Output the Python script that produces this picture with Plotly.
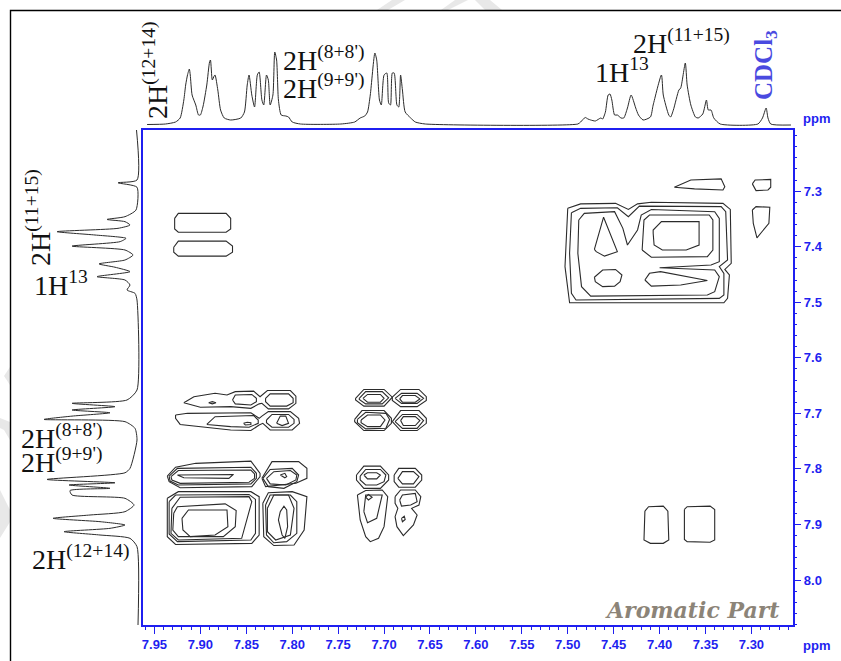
import plotly.graph_objects as go

W, H = 841, 661

# 1D projections: (chemical shift in ppm, intensity)
top_ppm = [7.958,7.938,7.927,7.922,7.918,7.916,7.914,7.912,7.911,7.909,7.905,7.902,7.900,7.897,7.893,7.890,7.889,7.887,7.885,7.884,7.881,7.878,7.874,7.867,7.856,7.852,7.849,7.847,7.844,7.841,7.838,7.836,7.833,7.831,7.828,7.826,7.824,7.821,7.819,7.817,7.815,7.812,7.807,7.804,7.800,7.791,7.747,7.732,7.726,7.721,7.718,7.715,7.710,7.708,7.705,7.703,7.700,7.697,7.695,7.693,7.691,7.689,7.686,7.684,7.682,7.680,7.677,7.671,7.666,7.655,7.489,7.486,7.481,7.478,7.475,7.470,7.464,7.462,7.459,7.456,7.454,7.452,7.449,7.446,7.442,7.439,7.435,7.431,7.426,7.423,7.418,7.410,7.407,7.398,7.396,7.390,7.388,7.385,7.379,7.377,7.372,7.370,7.366,7.361,7.358,7.353,7.349,7.347,7.344,7.341,7.334,7.293,7.288,7.284,7.282,7.279,7.257]
top_int = [0.5,1,3,7,25,40,50,56,50,30,20,10,10,19,40,63,65,45,49,50,35,15,7,5,7,13,40,50,30,18,50,53,25,20,50,45,20,30,73,65,25,10,9,8,3,1,1,3,7,9,13,30,72,65,25,20,50,52,22,20,52,52,20,18,50,35,13,7,3,1,1,3,7.5,6,5,4,7,6,13,30,31,25,10,10,7,7,17,30,17,10,5,8,20,50,30,10,8,15,35,37,62,40,20,8,7,11,25,15,15,7,1,1,7,17,7,1,0]

left_ppm = [7.190,7.280,7.285,7.293,7.334,7.346,7.351,7.355,7.361,7.367,7.373,7.379,7.385,7.391,7.399,7.406,7.415,7.424,7.431,7.437,7.445,7.454,7.460,7.469,7.478,7.484,7.496,7.658,7.676,7.682,7.688,7.694,7.699,7.705,7.711,7.715,7.727,7.748,7.799,7.807,7.819,7.825,7.829,7.835,7.839,7.847,7.853,7.865,7.877,7.883,7.889,7.895,7.901,7.907,7.913,7.919,7.925,7.940,8.081]
left_int = [0.5,0,19,0,1,12,30,12,7,19,80,42,11,17,65,12,4,12,38,22,7,40,12,7,10,2,0,0,10,65,22,65,27,65,93,12,2,0,7,12,90,22,68,27,67,65,12,3,12,47,84,37,12,27,73,37,7,0,-1]

x_tick_vals = [7.95,7.90,7.85,7.80,7.75,7.70,7.65,7.60,7.55,7.50,7.45,7.40,7.35,7.30]
y_tick_vals = [7.3,7.4,7.5,7.6,7.7,7.8,7.9,8.0]

# Cross-peak contours, (F2 ppm, F1 ppm), grouped by region
contours_upper_left = [
    [(7.928,7.349),(7.924,7.340),(7.872,7.340),(7.867,7.349),(7.867,7.368),(7.872,7.374),(7.924,7.374),(7.928,7.368)],
    [(7.929,7.401),(7.924,7.390),(7.872,7.390),(7.865,7.399),(7.865,7.410),(7.872,7.417),(7.924,7.417),(7.929,7.410)],
]
contours_770_left = [
    [(7.918,7.681),(7.907,7.670),(7.884,7.664),(7.871,7.667),(7.862,7.661),(7.842,7.660),(7.835,7.670),(7.833,7.667),(7.827,7.659),(7.802,7.659),(7.796,7.669),(7.796,7.682),(7.804,7.692),(7.826,7.692),(7.833,7.682),(7.836,7.683),(7.845,7.691),(7.867,7.688),(7.900,7.689)],
    [(7.865,7.676),(7.862,7.667),(7.844,7.666),(7.839,7.673),(7.839,7.679),(7.845,7.685),(7.862,7.683)],
    [(7.829,7.673),(7.824,7.665),(7.804,7.665),(7.799,7.673),(7.799,7.681),(7.806,7.687),(7.824,7.687),(7.829,7.679)],
    [(7.891,7.681),(7.887,7.679),(7.883,7.681),(7.887,7.683)],
    [(7.927,7.703),(7.914,7.700),(7.845,7.699),(7.836,7.709),(7.833,7.705),(7.826,7.697),(7.802,7.697),(7.793,7.709),(7.792,7.718),(7.800,7.730),(7.824,7.730),(7.832,7.718),(7.836,7.721),(7.845,7.731),(7.867,7.730),(7.922,7.720),(7.927,7.709)],
    [(7.893,7.720),(7.884,7.706),(7.842,7.704),(7.837,7.712),(7.837,7.718),(7.847,7.725),(7.867,7.724)],
    [(7.828,7.712),(7.822,7.702),(7.804,7.702),(7.798,7.711),(7.798,7.718),(7.804,7.725),(7.822,7.725),(7.828,7.717)],
    [(7.817,7.718),(7.813,7.705),(7.807,7.705),(7.804,7.718),(7.811,7.722)],
    [(7.853,7.718),(7.849,7.716),(7.845,7.717),(7.845,7.720),(7.851,7.721)],
]
contours_770_right = [
    [(7.731,7.673),(7.722,7.657),(7.700,7.657),(7.691,7.671),(7.700,7.687),(7.722,7.687),(7.731,7.676)],
    [(7.727,7.673),(7.720,7.661),(7.702,7.661),(7.695,7.672),(7.702,7.683),(7.720,7.683),(7.727,7.675)],
    [(7.723,7.673),(7.718,7.666),(7.704,7.666),(7.700,7.673),(7.704,7.680),(7.718,7.680)],
    [(7.691,7.671),(7.682,7.657),(7.662,7.657),(7.654,7.670),(7.654,7.677),(7.664,7.688),(7.682,7.688),(7.691,7.677)],
    [(7.688,7.673),(7.681,7.664),(7.664,7.664),(7.657,7.673),(7.664,7.682),(7.681,7.682)],
    [(7.683,7.674),(7.680,7.668),(7.666,7.668),(7.661,7.674),(7.666,7.680),(7.680,7.680)],
    [(7.732,7.711),(7.724,7.695),(7.700,7.695),(7.692,7.709),(7.692,7.718),(7.700,7.731),(7.722,7.731),(7.732,7.715)],
    [(7.729,7.711),(7.720,7.698),(7.698,7.700),(7.694,7.711),(7.698,7.727),(7.720,7.728),(7.729,7.717)],
    [(7.725,7.712),(7.718,7.703),(7.704,7.703),(7.699,7.712),(7.704,7.724),(7.718,7.724),(7.725,7.717)],
    [(7.691,7.715),(7.682,7.695),(7.662,7.695),(7.654,7.709),(7.654,7.718),(7.664,7.731),(7.682,7.731)],
    [(7.688,7.715),(7.680,7.702),(7.664,7.702),(7.657,7.713),(7.664,7.727),(7.680,7.727)],
    [(7.682,7.713),(7.679,7.706),(7.666,7.706),(7.661,7.713),(7.666,7.722),(7.679,7.722)],
]
contours_780_left = [
    [(7.936,7.813),(7.927,7.797),(7.905,7.790),(7.845,7.786),(7.835,7.808),(7.835,7.814),(7.844,7.832),(7.922,7.834),(7.934,7.823)],
    [(7.934,7.813),(7.925,7.799),(7.845,7.797),(7.839,7.808),(7.839,7.817),(7.845,7.827),(7.924,7.829),(7.933,7.822)],
    [(7.932,7.814),(7.924,7.803),(7.845,7.802),(7.841,7.809),(7.841,7.817),(7.847,7.824),(7.922,7.826),(7.931,7.820)],
    [(7.925,7.811),(7.864,7.810),(7.869,7.817),(7.918,7.816)],
    [(7.936,7.853),(7.924,7.841),(7.845,7.841),(7.836,7.850),(7.836,7.919),(7.844,7.934),(7.927,7.936),(7.936,7.922)],
    [(7.934,7.859),(7.927,7.847),(7.847,7.846),(7.840,7.855),(7.840,7.916),(7.845,7.928),(7.925,7.931),(7.934,7.917)],
    [(7.931,7.871),(7.922,7.851),(7.847,7.850),(7.844,7.859),(7.855,7.925),(7.924,7.928),(7.932,7.916)],
    [(7.929,7.880),(7.925,7.868),(7.873,7.863),(7.861,7.875),(7.862,7.904),(7.875,7.922),(7.924,7.922),(7.930,7.910)],
    [(7.920,7.889),(7.913,7.874),(7.871,7.874),(7.870,7.904),(7.884,7.919),(7.911,7.922),(7.919,7.910)],
    [(7.833,7.817),(7.822,7.787),(7.793,7.787),(7.784,7.799),(7.784,7.817),(7.796,7.826),(7.829,7.832)],
    [(7.832,7.817),(7.824,7.801),(7.800,7.799),(7.793,7.811),(7.795,7.823),(7.809,7.835),(7.826,7.832)],
    [(7.828,7.817),(7.820,7.805),(7.802,7.803),(7.795,7.811),(7.796,7.820),(7.807,7.829),(7.824,7.827)],
    [(7.813,7.811),(7.808,7.808),(7.806,7.814),(7.808,7.816)],
    [(7.832,7.862),(7.826,7.843),(7.800,7.841),(7.784,7.850),(7.787,7.910),(7.798,7.937),(7.820,7.938),(7.831,7.922)],
    [(7.829,7.865),(7.824,7.847),(7.802,7.847),(7.795,7.859),(7.795,7.916),(7.806,7.931),(7.820,7.933),(7.828,7.919)],
    [(7.827,7.871),(7.820,7.847),(7.804,7.847),(7.798,7.871),(7.802,7.919),(7.818,7.928),(7.827,7.913)],
    [(7.813,7.877),(7.809,7.867),(7.806,7.874),(7.805,7.904),(7.808,7.925),(7.811,7.919),(7.815,7.892)],
]
contours_780_right = [
    [(7.730,7.811),(7.722,7.795),(7.704,7.795),(7.695,7.811),(7.695,7.820),(7.704,7.835),(7.722,7.835),(7.730,7.820)],
    [(7.726,7.813),(7.720,7.801),(7.704,7.801),(7.698,7.811),(7.700,7.823),(7.708,7.829),(7.720,7.829),(7.726,7.820)],
    [(7.722,7.811),(7.718,7.807),(7.708,7.807),(7.704,7.811),(7.708,7.818),(7.718,7.818)],
    [(7.729,7.847),(7.720,7.839),(7.702,7.838),(7.696,7.850),(7.700,7.904),(7.706,7.925),(7.715,7.931),(7.720,7.922),(7.726,7.892)],
    [(7.722,7.877),(7.720,7.847),(7.702,7.847),(7.708,7.889),(7.718,7.897)],
    [(7.720,7.851),(7.717,7.846),(7.713,7.851),(7.717,7.856)],
    [(7.689,7.811),(7.684,7.799),(7.666,7.799),(7.659,7.811),(7.659,7.820),(7.666,7.833),(7.684,7.833),(7.689,7.823)],
    [(7.685,7.817),(7.680,7.805),(7.668,7.805),(7.662,7.814),(7.668,7.827),(7.680,7.827)],
    [(7.688,7.850),(7.682,7.838),(7.666,7.838),(7.660,7.850),(7.662,7.865),(7.670,7.871),(7.664,7.883),(7.668,7.901),(7.679,7.920),(7.686,7.904),(7.688,7.886),(7.685,7.871),(7.688,7.862)],
    [(7.683,7.856),(7.680,7.847),(7.666,7.844),(7.664,7.859),(7.671,7.865),(7.681,7.867)],
    [(7.681,7.889),(7.678,7.885),(7.677,7.891),(7.680,7.895)],
]
contours_740 = [
    [(7.500,7.331),(7.486,7.323),(7.448,7.322),(7.434,7.333),(7.424,7.323),(7.409,7.320),(7.331,7.322),(7.323,7.333),(7.322,7.430),(7.329,7.441),(7.324,7.451),(7.326,7.493),(7.330,7.501),(7.498,7.501),(7.503,7.436)],
    [(7.496,7.339),(7.486,7.331),(7.446,7.330),(7.434,7.346),(7.422,7.327),(7.333,7.328),(7.328,7.337),(7.326,7.424),(7.335,7.436),(7.330,7.448),(7.330,7.487),(7.335,7.493),(7.491,7.496),(7.496,7.484),(7.498,7.412)],
    [(7.488,7.352),(7.482,7.340),(7.449,7.337),(7.440,7.367),(7.435,7.397),(7.424,7.370),(7.420,7.343),(7.409,7.333),(7.340,7.337),(7.335,7.349),(7.335,7.427),(7.344,7.433),(7.400,7.438),(7.340,7.442),(7.335,7.454),(7.340,7.481),(7.348,7.487),(7.475,7.489),(7.485,7.472),(7.489,7.412)],
    [(7.471,7.405),(7.461,7.347),(7.446,7.409),(7.460,7.417),(7.469,7.409)],
    [(7.419,7.406),(7.417,7.352),(7.411,7.343),(7.346,7.343),(7.342,7.352),(7.342,7.406),(7.348,7.418),(7.409,7.419)],
    [(7.407,7.376),(7.407,7.370),(7.398,7.355),(7.357,7.355),(7.357,7.397),(7.371,7.406),(7.397,7.406),(7.406,7.397)],
    [(7.471,7.455),(7.462,7.442),(7.448,7.441),(7.441,7.451),(7.443,7.463),(7.449,7.471),(7.462,7.472),(7.470,7.463)],
    [(7.416,7.460),(7.411,7.448),(7.399,7.445),(7.348,7.461),(7.377,7.469),(7.409,7.471)],
    [(7.384,7.293),(7.366,7.280),(7.333,7.278),(7.329,7.292),(7.331,7.298),(7.362,7.296)],
    [(7.299,7.287),(7.296,7.280),(7.279,7.279),(7.279,7.293),(7.282,7.298),(7.295,7.299)],
    [(7.299,7.334),(7.295,7.328),(7.280,7.329),(7.281,7.358),(7.294,7.384),(7.298,7.358)],
]
contours_790_right = [
    [(7.416,7.876),(7.412,7.868),(7.396,7.867),(7.391,7.876),(7.390,7.928),(7.396,7.934),(7.410,7.934),(7.417,7.928)],
    [(7.373,7.873),(7.370,7.868),(7.345,7.867),(7.340,7.873),(7.340,7.928),(7.345,7.932),(7.370,7.931),(7.373,7.927)],
]

BLUE = "#1f1ff0"
INK = "#2b2b2b"

fig = go.Figure()
for group in (contours_upper_left, contours_770_left, contours_770_right,
              contours_780_left, contours_780_right, contours_740, contours_790_right):
    for poly in group:
        closed = poly + poly[:1]
        fig.add_trace(go.Scatter(x=[p[0] for p in closed], y=[p[1] for p in closed],
                                 mode="lines", line=dict(color=INK, width=1.1),
                                 hoverinfo="skip", showlegend=False))

fig.add_trace(go.Scatter(x=top_ppm, y=top_int, xaxis="x2", yaxis="y2", mode="lines",
                         line=dict(color=INK, width=1, shape="spline", smoothing=0.6), hoverinfo="skip", showlegend=False))
fig.add_trace(go.Scatter(x=left_int, y=left_ppm, xaxis="x3", yaxis="y3", mode="lines",
                         line=dict(color=INK, width=1, shape="spline", smoothing=0.6), hoverinfo="skip", showlegend=False))

def fx(px): return px / W
def fy(py): return 1 - py / H

X_RANGE = [7.963, 7.2553]
Y_RANGE = [8.081, 7.190]
TICKFONT = dict(family="Liberation Sans", size=13, color=BLUE, weight="bold")

fig.update_layout(
    width=W, height=H, margin=dict(l=0, r=0, t=0, b=0), autosize=False,
    paper_bgcolor="white", plot_bgcolor="white", showlegend=False,
    xaxis=dict(domain=[fx(142.5), fx(792.5)], range=X_RANGE, anchor="y", side="bottom",
               tickmode="array", tickvals=x_tick_vals, tickformat=".2f", ticks="outside", ticklen=7, tickwidth=1.2,
               tickcolor=BLUE, tickfont=TICKFONT, showgrid=False, zeroline=False,
               showline=True, mirror=True, linecolor=BLUE, linewidth=1.5,
               minor=dict(dtick=0.01, tick0=7.3, ticks="outside", ticklen=3, tickcolor=BLUE, tickwidth=1, showgrid=False)),
    yaxis=dict(domain=[fy(625), fy(130)], range=Y_RANGE, anchor="x", side="right",
               tickmode="array", tickvals=y_tick_vals, tickformat=".1f", ticks="outside", ticklen=7, tickwidth=1.2,
               tickcolor=BLUE, tickfont=TICKFONT, showgrid=False, zeroline=False,
               showline=True, mirror=True, linecolor=BLUE, linewidth=1.5,
               minor=dict(dtick=0.02, tick0=7.3, ticks="outside", ticklen=3, tickcolor=BLUE, tickwidth=1, showgrid=False)),
    xaxis2=dict(domain=[fx(142.5), fx(792.5)], range=X_RANGE, anchor="y2", visible=False),
    yaxis2=dict(domain=[fy(128), fy(40)], range=[-3, 85], anchor="x2", visible=False),
    xaxis3=dict(domain=[fx(11), fx(140)], range=[126, -3], anchor="y3", visible=False),
    yaxis3=dict(domain=[fy(625), fy(130)], range=Y_RANGE, anchor="x3", visible=False),
)

def path(points):
    return "M " + " L ".join(f"{fx(a):.5f},{fy(b):.5f}" for a, b in points) + " Z"

WM = "#e8e8e8"
shapes = []
for pts in ([(377, 10), (392, 0), (405, 0), (388, 10)],
            [(441, 10), (455, 0), (468, 0), (448, 10)],
            [(475, 0), (485, 10), (502, 10), (490, 0)],
            [(4, 376), (10, 367), (10, 385)],
            [(0, 418), (10, 422), (10, 440), (4, 430), (0, 428)],
            [(0, 490), (5, 500), (10, 510), (10, 522), (0, 538)]):
    shapes.append(dict(type="path", xref="paper", yref="paper", path=path(pts),
                       fillcolor=WM, line=dict(width=0), layer="below"))
shapes.append(dict(type="path", xref="paper", yref="paper",
                   path=f"M {fx(10.5):.5f},{fy(661):.5f} L {fx(10.5):.5f},{fy(10.5):.5f} L {fx(841):.5f},{fy(10.5):.5f}",
                   line=dict(color="black", width=1.4), layer="above"))
fig.update_layout(shapes=shapes)

SERIF = "Liberation Serif"
def label(text, px, py, size=28, color="#111111", angle=0, family=SERIF, **font):
    fig.add_annotation(xref="paper", yref="paper", x=fx(px), y=fy(py), text=text,
                       showarrow=False, xanchor="center", yanchor="middle", textangle=angle,
                       font=dict(family=family, size=size, color=color, **font))

label("2H<sup>(12+14)</sup>", 155, 70, angle=-90)
label("2H<sup>(8+8')</sup>", 323, 59)
label("2H<sup>(9+9')</sup>", 323, 87)
label("1H<sup>13</sup>", 622, 71)
label("2H<sup>(11+15)</sup>", 681, 42)
label("CDCl<sub>3</sub>", 766, 65, size=25, color="#4a4ae0", angle=-90, weight="bold")
label("2H<sup>(11+15)</sup>", 38, 218, angle=-90)
label("1H<sup>13</sup>", 61, 283)
label("2H<sup>(8+8')</sup>", 61, 436)
label("2H<sup>(9+9')</sup>", 61, 460)
label("2H<sup>(12+14)</sup>", 81, 557)
label("Aromatic Part", 692, 610, size=22, color="#8c8478", family="DejaVu Serif", weight="bold", style="italic")

for py in (119, 645):
    fig.add_annotation(xref="paper", yref="paper", x=fx(816), y=fy(py), text="ppm", showarrow=False,
                       xanchor="center", yanchor="middle",
                       font=dict(family="Liberation Sans", size=13, color=BLUE, weight="bold"))

fig.write_html("out.html", config=dict(displayModeBar=False),
               post_script="document.body.style.margin='0';document.body.style.overflow='hidden';")
